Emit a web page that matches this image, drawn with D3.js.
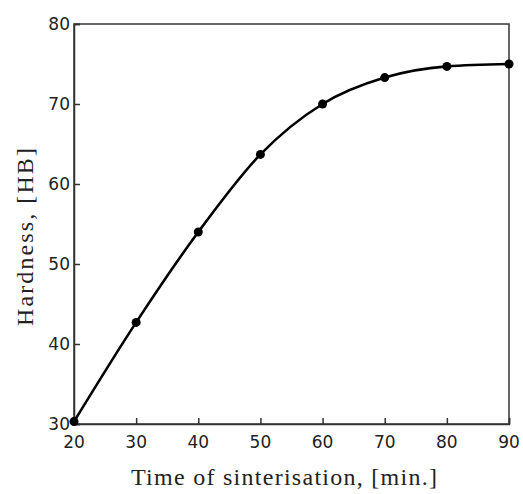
<!DOCTYPE html>
<html>
<head>
<meta charset="utf-8">
<script src="https://cdn.jsdelivr.net/npm/d3@7"></script>
<style>
  body { margin: 0; background: #fff; }
</style>
</head>
<body>
<svg id="chart"></svg>
<script>
// data
const times = [20, 30, 40, 50, 60, 70, 80, 90];
const hardness = [30.3, 42.7, 54.0, 63.7, 70.0, 73.3, 74.7, 75.0];
const xTicks = [20, 30, 40, 50, 60, 70, 80, 90];
const yTicks = [30, 40, 50, 60, 70, 80];

const w = 523;
const h = 494;
const margin = { top: 24, right: 14, bottom: 70, left: 74 };

const svg = d3.select('#chart')
    .attr('width', w)
    .attr('height', h);

// scales
const xScale = d3.scaleLinear()
    .domain([20, 90])
    .range([margin.left, w - margin.right]);

const yScale = d3.scaleLinear()
    .domain([30, 80])
    .range([h - margin.bottom, margin.top]);

// frame
svg.append('rect')
    .attr('x', margin.left)
    .attr('y', margin.top)
    .attr('width', xScale(90) - xScale(20))
    .attr('height', yScale(30) - yScale(80))
    .attr('fill', 'none')
    .attr('stroke', '#333')
    .attr('stroke-width', 1.5);

// axes, ticks point inward
const xAxis = d3.axisTop(xScale)
    .tickValues(xTicks)
    .tickSize(6)
    .tickFormat('');

const yAxis = d3.axisRight(yScale)
    .tickValues(yTicks)
    .tickSize(6)
    .tickFormat('');

const gx = svg.append('g')
    .attr('transform', `translate(0, ${yScale(30)})`)
    .call(xAxis);
const gy = svg.append('g')
    .attr('transform', `translate(${xScale(20)}, 0)`)
    .call(yAxis);
[gx, gy].forEach(g => {
    g.select('.domain').attr('stroke', '#333').attr('stroke-width', 1.5);
    g.selectAll('.tick line').attr('stroke', '#333').attr('stroke-width', 1.5);
});

// tick labels
svg.append('g')
    .selectAll('text')
    .data(xTicks)
    .join('text')
    .attr('x', d => xScale(d))
    .attr('y', yScale(30) + 24)
    .attr('text-anchor', 'middle')
    .attr('font-family', 'DejaVu Sans, sans-serif')
    .attr('font-size', 17)
    .attr('fill', '#222')
    .text(d => d);

svg.append('g')
    .selectAll('text')
    .data(yTicks)
    .join('text')
    .attr('x', xScale(20) - 4)
    .attr('y', d => yScale(d) + 6)
    .attr('text-anchor', 'end')
    .attr('font-family', 'DejaVu Sans, sans-serif')
    .attr('font-size', 17)
    .attr('fill', '#222')
    .text(d => d);

// axis titles
svg.append('text')
    .attr('x', 284)
    .attr('y', 485)
    .attr('text-anchor', 'middle')
    .attr('font-family', 'Liberation Serif, serif')
    .attr('font-size', 24)
    .attr('textLength', 306)
    .attr('lengthAdjust', 'spacing')
    .attr('fill', '#222')
    .text('Time of sinterisation, [min.]');

svg.append('text')
    .attr('transform', 'translate(33, 237) rotate(-90)')
    .attr('text-anchor', 'middle')
    .attr('font-family', 'Liberation Serif, serif')
    .attr('font-size', 24)
    .attr('textLength', 178)
    .attr('lengthAdjust', 'spacing')
    .attr('fill', '#222')
    .text('Hardness, [HB]');

// curve
const line = d3.line()
    .x((d, i) => xScale(times[i]))
    .y(d => yScale(d))
    .curve(d3.curveMonotoneX);

svg.append('path')
    .datum(hardness)
    .attr('d', line)
    .attr('fill', 'none')
    .attr('stroke', '#000')
    .attr('stroke-width', 2.6);

// points
svg.append('g')
    .selectAll('circle')
    .data(hardness)
    .join('circle')
    .attr('cx', (d, i) => xScale(times[i]))
    .attr('cy', d => yScale(d))
    .attr('r', 4.5)
    .attr('fill', '#000');
</script>
</body>
</html>
